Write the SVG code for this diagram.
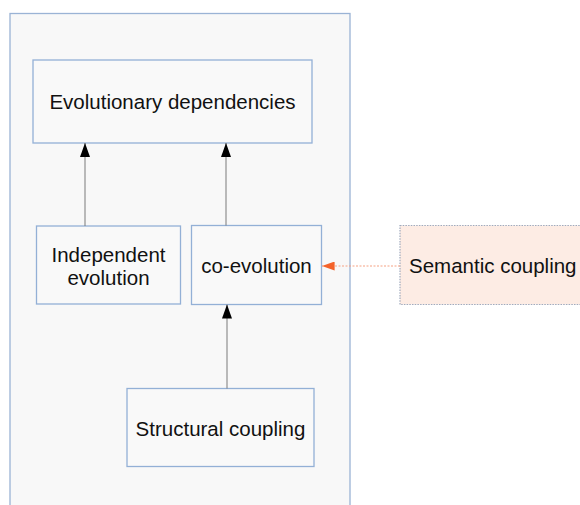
<svg xmlns="http://www.w3.org/2000/svg" width="580" height="505" viewBox="0 0 580 505">
<defs>
<style>
text{font-family:"Liberation Sans",Arial,sans-serif;font-size:20.5px;fill:#111;}
.box{fill:#f9f9f9;stroke:#93b0d6;stroke-width:1.3;}
.edge{stroke:#7a7a7a;stroke-width:1;fill:none;}
.sem{stroke:#f5a283;stroke-width:1.2;stroke-dasharray:2 1.5;fill:none;}
</style>
<marker id="ah" viewBox="0 0 14 10" refX="14" refY="5" markerWidth="14" markerHeight="10" markerUnits="userSpaceOnUse" orient="auto">
<path d="M0,0 L14,5 L0,10 Z" fill="#000"/>
</marker>
<marker id="ahr" viewBox="0 0 14 10" refX="14" refY="5" markerWidth="14" markerHeight="9" markerUnits="userSpaceOnUse" orient="auto">
<path d="M0,0 L14,5 L0,10 Z" fill="#f4632a"/>
</marker>
</defs>
<rect width="580" height="505" fill="#ffffff"/>
<g id="container">
<rect x="10" y="13.5" width="340" height="500" fill="#f8f8f8" stroke="#9ab3d5" stroke-width="1.3"/>
</g>
<g id="evolutionary-dependencies">
<rect class="box" x="33" y="60" width="279" height="83"/>
<text x="172.5" y="108.5" text-anchor="middle">Evolutionary dependencies</text>
</g>
<g id="independent-evolution">
<rect class="box" x="36.5" y="226" width="144" height="78"/>
<text x="108.5" y="262" text-anchor="middle">Independent</text>
<text x="108.5" y="284.5" text-anchor="middle">evolution</text>
</g>
<g id="co-evolution">
<rect class="box" x="191.5" y="225.5" width="130" height="79"/>
<text x="256.5" y="272.5" text-anchor="middle">co-evolution</text>
</g>
<g id="structural-coupling">
<rect class="box" x="127" y="388.5" width="187" height="78"/>
<text x="220.5" y="435.5" text-anchor="middle">Structural coupling</text>
</g>
<g id="semantic-coupling">
<rect x="400" y="225.5" width="190" height="79" fill="#fdece4" stroke="#9faabd" stroke-width="1.2" stroke-dasharray="1.5 1.2"/>
<text x="409" y="272.5">Semantic coupling</text>
</g>
<g id="connectors">
<path class="edge" d="M85,226 L85,143" marker-end="url(#ah)"/>
<path class="edge" d="M226,225.5 L226,143" marker-end="url(#ah)"/>
<path class="edge" d="M227,388.5 L227,304.5" marker-end="url(#ah)"/>
<path class="sem" d="M400,266 L322,266" marker-end="url(#ahr)"/>
</g>
</svg>
